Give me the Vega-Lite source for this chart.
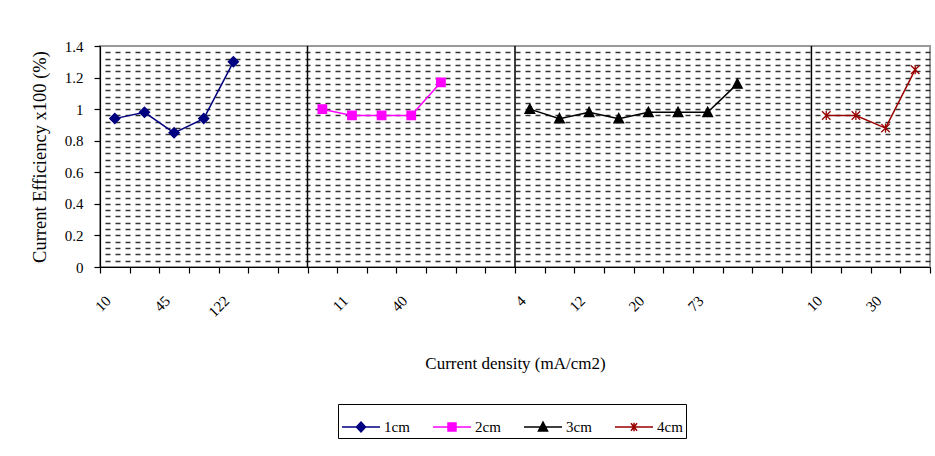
{
  "$schema": "https://vega.github.io/schema/vega-lite/v6.json",
  "autosize": "none",
  "width": 830,
  "height": 221,
  "padding": {"left": 100, "top": 46, "right": 5, "bottom": 189},
  "background": "white",
  "config": {
    "font": "Liberation Serif",
    "view": {"stroke": "#9a9a9a", "strokeWidth": 2},
    "axis": {"domainColor": "#000", "tickColor": "#000", "labelColor": "#000", "titleColor": "#000", "domainWidth": 1.2, "tickWidth": 1.2}
  },
  "datasets": {
    "efficiency": [
      {"series": "1cm", "slot": 0, "efficiency": 0.94},
      {"series": "1cm", "slot": 1, "efficiency": 0.98},
      {"series": "1cm", "slot": 2, "efficiency": 0.85},
      {"series": "1cm", "slot": 3, "efficiency": 0.94},
      {"series": "1cm", "slot": 4, "efficiency": 1.30},
      {"series": "2cm", "slot": 7, "efficiency": 1.00},
      {"series": "2cm", "slot": 8, "efficiency": 0.96},
      {"series": "2cm", "slot": 9, "efficiency": 0.96},
      {"series": "2cm", "slot": 10, "efficiency": 0.96},
      {"series": "2cm", "slot": 11, "efficiency": 1.17},
      {"series": "3cm", "slot": 14, "efficiency": 1.00},
      {"series": "3cm", "slot": 15, "efficiency": 0.94},
      {"series": "3cm", "slot": 16, "efficiency": 0.98},
      {"series": "3cm", "slot": 17, "efficiency": 0.94},
      {"series": "3cm", "slot": 18, "efficiency": 0.98},
      {"series": "3cm", "slot": 19, "efficiency": 0.98},
      {"series": "3cm", "slot": 20, "efficiency": 0.98},
      {"series": "3cm", "slot": 21, "efficiency": 1.16},
      {"series": "4cm", "slot": 24, "efficiency": 0.96},
      {"series": "4cm", "slot": 25, "efficiency": 0.96},
      {"series": "4cm", "slot": 26, "efficiency": 0.88},
      {"series": "4cm", "slot": 27, "efficiency": 1.25}
    ],
    "legendOnly": []
  },
  "resolve": {
    "scale": {"fill": "independent", "stroke": "independent", "shape": "independent"},
    "axis": {"y": "independent"}
  },
  "layer": [
    {
      "data": {"name": "efficiency"},
      "mark": {"type": "line", "strokeWidth": 1.5},
      "encoding": {
        "x": {
          "field": "slot", "type": "ordinal", "bandPosition": 0.5,
          "scale": {"type": "band", "domain": [0,1,2,3,4,5,6,7,8,9,10,11,12,13,14,15,16,17,18,19,20,21,22,23,24,25,26,27], "paddingInner": 0, "paddingOuter": 0},
          "axis": {
            "title": "Current density (mA/cm2)",
            "titleFont": "Liberation Serif", "titleFontSize": 17, "titleFontWeight": "normal", "titlePadding": 36,
            "tickBand": "extent", "tickSize": 6, "grid": false,
            "labelAngle": -45, "labelFontSize": 15, "labelPadding": 20, "labelOffset": -12, "labelOverlap": false, "labelBound": false,
            "labelExpr": "['10','','45','','122','','','','11','','40','','','','4','','12','','20','','73','','','','10','','30',''][datum.value]"
          }
        },
        "y": {
          "field": "efficiency", "type": "quantitative",
          "scale": {"domain": [0, 1.4], "nice": false},
          "axis": {
            "orient": "left", "title": "Current Efficiency x100 (%)",
            "titleFont": "Liberation Serif", "titleFontSize": 18.5, "titleFontWeight": "normal", "titlePadding": 15,
            "values": [0, 0.2, 0.4, 0.6, 0.8, 1, 1.2, 1.4], "format": "~g",
            "grid": false, "tickSize": 6, "labelFontSize": 15, "labelPadding": 11
          }
        },
        "color": {
          "field": "series", "type": "nominal", "legend": null,
          "scale": {"domain": ["1cm", "2cm", "3cm", "4cm"], "range": ["#000080", "#ff00ff", "#000000", "#990000"]}
        }
      }
    },
    {
      "data": {"name": "efficiency"},
      "mark": {"type": "point", "filled": true, "opacity": 1, "size": 72, "strokeWidth": 1.3},
      "encoding": {
        "x": {"field": "slot", "type": "ordinal", "bandPosition": 0.5},
        "y": {
          "field": "efficiency", "type": "quantitative",
          "axis": {
            "orient": "right", "title": null, "labels": false, "ticks": false, "domain": false,
            "grid": true, "gridDash": [5, 5], "gridColor": "#333333", "gridWidth": 1.5,
            "values": [0.04,0.08,0.12,0.16,0.2,0.24,0.28,0.32,0.36,0.4,0.44,0.48,0.52,0.56,0.6,0.64,0.68,0.72,0.76,0.8,0.84,0.88,0.92,0.96,1,1.04,1.08,1.12,1.16,1.2,1.24,1.28,1.32,1.36]
          }
        },
        "fill": {
          "field": "series", "type": "nominal", "legend": null,
          "scale": {"domain": ["1cm", "2cm", "3cm", "4cm"], "range": ["#000080", "#ff00ff", "#000000", "#990000"]}
        },
        "stroke": {
          "field": "series", "type": "nominal", "legend": null,
          "scale": {"domain": ["1cm", "2cm", "3cm", "4cm"], "range": ["#000080", "#ff00ff", "#000000", "#990000"]}
        },
        "shape": {
          "field": "series", "type": "nominal", "legend": null,
          "scale": {
            "domain": ["1cm", "2cm", "3cm", "4cm"],
            "range": [
              "M0,-1.2L1.2,0L0,1.2L-1.2,0Z",
              "M-1,-1H1V1H-1Z",
              "M0,-1.2L1.15,1H-1.15Z",
              "M-1,-1L1,1M-1,1L1,-1M0,-1.1V1.1"
            ]
          }
        }
      }
    },
    {
      "data": {"name": "efficiency"},
      "transform": [
        {"aggregate": [{"op": "min", "field": "slot", "as": "slot"}], "groupby": ["series"]},
        {"filter": "datum.series != '1cm'"}
      ],
      "mark": {"type": "rule", "color": "#000", "strokeWidth": 1.5},
      "encoding": {
        "x": {"field": "slot", "type": "ordinal", "bandPosition": 0}
      }
    },
    {
      "data": {"name": "legendOnly"},
      "mark": {"type": "point", "opacity": 1, "strokeWidth": 1.5},
      "encoding": {
        "fill": {
          "field": "series", "type": "nominal",
          "scale": {"domain": ["1cm", "2cm", "3cm", "4cm"], "range": ["#000080", "#ff00ff", "#000000", "#990000"]},
          "legend": {"title": null, "orient": "none", "legendX": 238, "legendY": 358, "direction": "horizontal", "symbolSize": 1444, "symbolStrokeWidth": 1.5, "labelFontSize": 15, "labelOffset": 3, "columnPadding": 20, "padding": 3, "strokeColor": "#000"}
        },
        "stroke": {
          "field": "series", "type": "nominal",
          "scale": {"domain": ["1cm", "2cm", "3cm", "4cm"], "range": ["#000080", "#ff00ff", "#000000", "#990000"]},
          "legend": {"title": null, "orient": "none", "legendX": 238, "legendY": 358, "direction": "horizontal", "symbolSize": 1444, "symbolStrokeWidth": 1.5, "labelFontSize": 15, "labelOffset": 3, "columnPadding": 20, "padding": 3, "strokeColor": "#000"}
        },
        "shape": {
          "field": "series", "type": "nominal",
          "scale": {
            "domain": ["1cm", "2cm", "3cm", "4cm"],
            "range": [
              "M-1,0H1M0,-0.26L0.24,0L0,0.26L-0.24,0Z",
              "M-1,0H1M-0.21,-0.21H0.21V0.21H-0.21Z",
              "M-1,0H1M0,-0.26L0.24,0.21H-0.24Z",
              "M-1,0H1M-0.16,-0.2L0.16,0.2M-0.16,0.2L0.16,-0.2M0,-0.22V0.22"
            ]
          },
          "legend": {"title": null, "orient": "none", "legendX": 238, "legendY": 358, "direction": "horizontal", "symbolSize": 1444, "symbolStrokeWidth": 1.5, "labelFontSize": 15, "labelOffset": 3, "columnPadding": 20, "padding": 3, "strokeColor": "#000"}
        }
      }
    }
  ]
}
